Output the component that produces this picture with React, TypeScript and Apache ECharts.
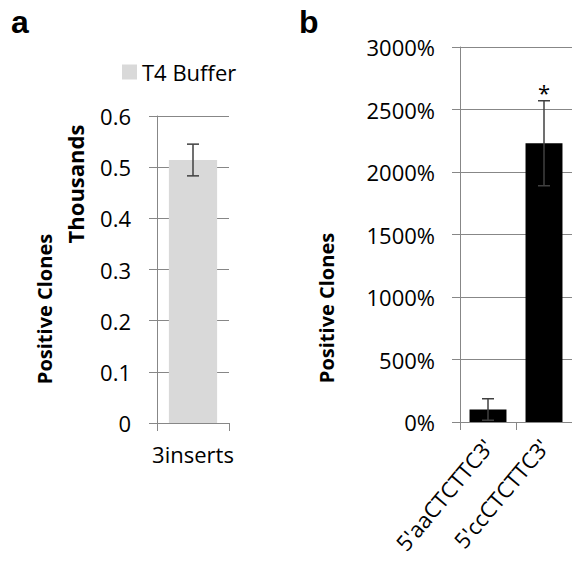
import React, { useEffect, useRef } from "react";
import * as echarts from "echarts";

const categoriesA = ["3inserts"];
const valuesA = [0.514];
const errorsA = [0.031];
const legendA = "T4 Buffer";

const categoriesB = ["5'aaCTCTTC3'", "5'ccCTCTTC3'"];
const valuesB = [100, 2230];
const errorsB = [86, 340];
const marksB = ["", "*"];

const ticksA = { min: 0, max: 0.6, interval: 0.1 };
const ticksB = { min: 0, max: 3000, interval: 500 };

const FONT = "Open Sans";
const GRID_COLOR = "#878787";

export default function App() {
  const ref = useRef<HTMLDivElement>(null);
  useEffect(() => {
    if (!ref.current) return;
    const chart = echarts.init(ref.current, undefined, { renderer: "svg" });

    const errorRender = (params: any, api: any) => {
      const x = api.value(0);
      const y = api.value(1);
      const e = api.value(2);
      const hi = api.coord([x, y + e]);
      const lo = api.coord([x, y - e]);
      const cap = 6;
      const style = { stroke: "#404040", lineWidth: 1.5 };
      const children: any[] = [
        { type: "line", shape: { x1: hi[0], y1: hi[1], x2: lo[0], y2: lo[1] }, style },
        { type: "line", shape: { x1: hi[0] - cap, y1: hi[1], x2: hi[0] + cap, y2: hi[1] }, style },
        { type: "line", shape: { x1: lo[0] - cap, y1: lo[1], x2: lo[0] + cap, y2: lo[1] }, style },
      ];
      const mark = params.seriesName === "errB" ? marksB[params.dataIndex] : "";
      if (mark) {
        children.push({
          type: "text",
          x: hi[0],
          y: hi[1] + 2,
          style: { text: mark, fontFamily: FONT, fontSize: 22, fill: "#000", align: "center", verticalAlign: "bottom" },
        });
      }
      return { type: "group", children };
    };

    const axisLineStyle = { color: GRID_COLOR, width: 1 };
    const labelStyle = { fontFamily: FONT, fontSize: 22, color: "#000" };

    chart.setOption({
      animation: false,
      backgroundColor: "#fff",
      legend: {
        data: [legendA],
        left: 122,
        top: 61,
        padding: 0,
        itemWidth: 15,
        itemHeight: 15,
        icon: "rect",
        textStyle: { fontFamily: FONT, fontSize: 22, color: "#000" },
      },
      grid: [
        { left: 157, top: 116, width: 72, height: 307 },
        { left: 460, top: 47, width: 118, height: 375 },
      ],
      xAxis: [
        {
          type: "category",
          gridIndex: 0,
          data: categoriesA,
          axisLine: { lineStyle: axisLineStyle },
          axisTick: { show: true, length: 8, lineStyle: axisLineStyle },
          axisLabel: { ...labelStyle, margin: 20 },
        },
        {
          type: "category",
          gridIndex: 1,
          data: categoriesB,
          axisLine: { lineStyle: axisLineStyle },
          axisTick: { show: true, length: 8, lineStyle: axisLineStyle },
          axisLabel: { ...labelStyle, margin: 20, rotate: 50, interval: 0 },
        },
      ],
      yAxis: [
        {
          type: "value",
          gridIndex: 0,
          min: ticksA.min,
          max: ticksA.max,
          interval: ticksA.interval,
          axisLine: { show: true, lineStyle: axisLineStyle },
          axisTick: { show: true, length: 8, lineStyle: axisLineStyle },
          splitLine: { show: true, lineStyle: axisLineStyle },
          axisLabel: { ...labelStyle, margin: 26, formatter: (v: number) => (v === 0 ? "0" : v.toFixed(1)) },
        },
        {
          type: "value",
          gridIndex: 1,
          min: ticksB.min,
          max: ticksB.max,
          interval: ticksB.interval,
          axisLine: { show: true, lineStyle: axisLineStyle },
          axisTick: { show: true, length: 8, lineStyle: axisLineStyle },
          splitLine: { show: true, lineStyle: axisLineStyle },
          axisLabel: { ...labelStyle, margin: 25, formatter: (v: number) => String(Math.round(v)) + "%" },
        },
      ],
      series: [
        {
          name: legendA,
          type: "bar",
          xAxisIndex: 0,
          yAxisIndex: 0,
          data: valuesA,
          barCategoryGap: "33%",
          itemStyle: { color: "#d9d9d9" },
        },
        {
          name: "errA",
          type: "custom",
          xAxisIndex: 0,
          yAxisIndex: 0,
          data: valuesA.map((v, i) => [i, v, errorsA[i]]),
          renderItem: errorRender,
          z: 5,
        },
        {
          name: "barsB",
          type: "bar",
          xAxisIndex: 1,
          yAxisIndex: 1,
          data: valuesB,
          barCategoryGap: "34%",
          itemStyle: { color: "#000" },
        },
        {
          name: "errB",
          type: "custom",
          xAxisIndex: 1,
          yAxisIndex: 1,
          data: valuesB.map((v, i) => [i, v, errorsB[i]]),
          renderItem: errorRender,
          z: 5,
        },
      ],
      graphic: [
        {
          type: "text",
          left: 11,
          top: 6,
          style: { text: "a", fontFamily: "Liberation Sans", fontWeight: "bold", fontSize: 32, fill: "#000" },
        },
        {
          type: "text",
          left: 299,
          top: 6,
          style: { text: "b", fontFamily: "Liberation Sans", fontWeight: "bold", fontSize: 32, fill: "#000" },
        },
        {
          type: "text",
          x: 75,
          y: 184,
          rotation: Math.PI / 2,
          style: { text: "Thousands", fontFamily: FONT, fontWeight: "bold", fontSize: 22, fill: "#000", align: "center", verticalAlign: "middle" },
        },
        {
          type: "text",
          x: 44,
          y: 309,
          rotation: Math.PI / 2,
          style: { text: "Positive Clones", fontFamily: FONT, fontWeight: "bold", fontSize: 20, fill: "#000", align: "center", verticalAlign: "middle" },
        },
        {
          type: "text",
          x: 326,
          y: 308,
          rotation: Math.PI / 2,
          style: { text: "Positive Clones", fontFamily: FONT, fontWeight: "bold", fontSize: 20, fill: "#000", align: "center", verticalAlign: "middle" },
        },
      ],
    });
    return () => chart.dispose();
  }, []);
  return <div ref={ref} style={{ position: "fixed", left: 0, top: 0, width: 572, height: 561 }} />;
}
